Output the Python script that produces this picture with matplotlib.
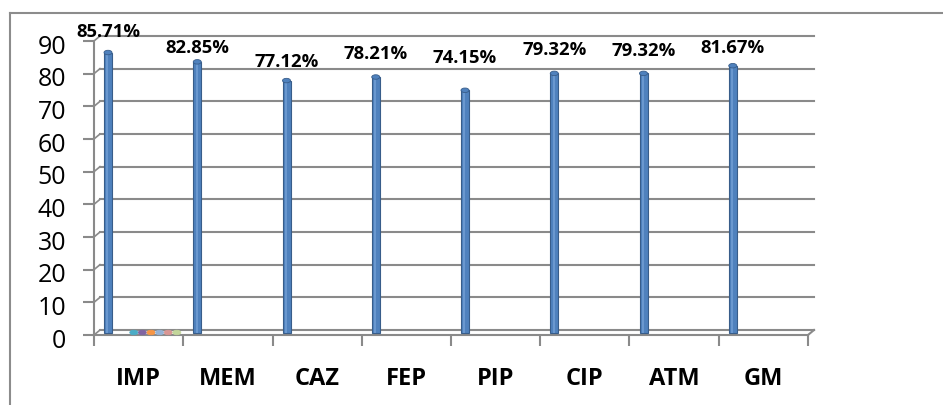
import matplotlib
matplotlib.use("Agg")
import matplotlib.pyplot as plt
from matplotlib.patches import Rectangle, Ellipse
from matplotlib.lines import Line2D
import matplotlib.transforms as mtransforms
import numpy as np

# ---------------- data ----------------
categories = ["IMP", "MEM", "CAZ", "FEP", "PIP", "CIP", "ATM", "GM"]
sensitivity = [85.71, 82.85, 77.12, 78.21, 74.15, 79.32, 79.32, 81.67]
value_labels = ["85.71%", "82.85%", "77.12%", "78.21%", "74.15%", "79.32%", "79.32%", "81.67%"]
# extra (empty) series that only appear as flat caps at IMP
extra_series = [
    [0, None, None, None, None, None, None, None],
    [0, None, None, None, None, None, None, None],
    [0, None, None, None, None, None, None, None],
    [0, None, None, None, None, None, None, None],
    [0, None, None, None, None, None, None, None],
    [0, None, None, None, None, None, None, None],
]
y_ticks = [0, 10, 20, 30, 40, 50, 60, 70, 80, 90]

# ---------------- style ----------------
W, H, DPI = 943, 405, 100
FONT = "Open Sans"
GRID = "#8a8a8a"
BLUE = "#4F81BD"
BLUE_EDGE = "#385D8A"
extra_colors = ["#4BACC6", "#8064A2", "#F79646", "#95B3D7", "#D99694", "#C3D69B"]
extra_slots = [3, 4, 5, 6, 7, 8]
label_dy_px = [21, 14, 19, 23, 32, 23, 22, 18]   # manual label placement above bar tops

fig = plt.figure(figsize=(W / DPI, H / DPI), dpi=DPI)
# front plane: x 94..808 px, y(0)=335 px, y(90)=41 px (from top)
left_px, right_px, y0_px, y90_px = 94, 808, 335, 41
ax = fig.add_axes([left_px / W, (H - y0_px) / H, (right_px - left_px) / W, (y0_px - y90_px) / H])
n = len(categories)
ax.set_xlim(0, n)
ax.set_ylim(0, 90)
ax.patch.set_visible(False)

ppx = (right_px - left_px) / n        # pixels per x unit
ppy = (y0_px - y90_px) / 90.0         # pixels per y unit
dx_back, dy_back = 6 / ppx, 5 / ppy   # depth offset of back wall
dy_mid = 2.5 / ppy                    # depth of bars

# back wall gridlines + left connectors
for v in y_ticks:
    ax.add_line(Line2D([dx_back, n + dx_back], [v + dy_back, v + dy_back], color=GRID, lw=1.5, clip_on=False, zorder=1))
    ax.add_line(Line2D([0, dx_back], [v, v + dy_back], color=GRID, lw=1.2, clip_on=False, zorder=1))
ax.add_line(Line2D([n, n + dx_back], [0, dy_back], color=GRID, lw=1.5, clip_on=False, zorder=1))

for s in ["top", "right"]:
    ax.spines[s].set_visible(False)
for s in ["left", "bottom"]:
    ax.spines[s].set_color(GRID)
    ax.spines[s].set_linewidth(1.5)

ax.set_yticks(y_ticks)
ax.set_yticklabels([str(t) for t in y_ticks], fontfamily=FONT, fontsize=18)
ax.tick_params(axis="y", length=8, width=1.5, color=GRID, pad=12)
shift = mtransforms.ScaledTranslation(0, -3 / DPI, fig.dpi_scale_trans)
for lbl in ax.get_yticklabels():
    lbl.set_transform(lbl.get_transform() + shift)
ax.set_xticks(np.arange(n) + 0.5)
ax.set_xticklabels(categories, fontfamily=FONT, fontsize=17, fontweight="bold")
ax.set_xticks(np.arange(n + 1), minor=True)
ax.tick_params(axis="x", which="major", length=0, pad=23)
ax.tick_params(axis="x", which="minor", length=8, width=1.5, color=GRID)

bw = 8 / ppx
slot_step = 8.6 / ppx
first_off = 14 / ppx
cap_h = 4.5 / ppy


def cylinder(xc, v, face, edge, z=3):
    x0 = xc - bw / 2
    if v > 0:
        ax.add_patch(Rectangle((x0, dy_mid), bw, v, facecolor=face, edgecolor=edge, lw=0.8, zorder=z, clip_on=False))
        ax.add_patch(Rectangle((x0 + bw * 0.3, dy_mid), bw * 0.25, v, facecolor="#6a98cf", edgecolor="none", zorder=z, clip_on=False))
    ax.add_patch(Ellipse((xc, v + dy_mid), bw, cap_h, facecolor=face, edgecolor=edge, lw=0.6, zorder=z + 0.5, clip_on=False))


for i, v in enumerate(sensitivity):
    xc = i + first_off
    cylinder(xc, v, BLUE, BLUE_EDGE)
    ax.annotate(value_labels[i], (xc, v + dy_mid), xytext=(0, label_dy_px[i] * 72 / DPI),
                textcoords="offset points", ha="center", va="center",
                fontfamily=FONT, fontsize=13.3, fontweight="bold", annotation_clip=False)

for s, vals in enumerate(extra_series):
    for i, v in enumerate(vals):
        if v is None:
            continue
        xc = i + first_off + extra_slots[s] * slot_step
        cylinder(xc, v, extra_colors[s], extra_colors[s], z=4)

# outer chart border (top and left edges visible)
fig.add_artist(Line2D([10 / W, 1.0], [1 - 13 / H, 1 - 13 / H], color="#8c8c8c", lw=1.5))
fig.add_artist(Line2D([10 / W, 10 / W], [0, 1 - 13 / H], color="#8c8c8c", lw=1.5))

fig.savefig("out.png", dpi=DPI)
